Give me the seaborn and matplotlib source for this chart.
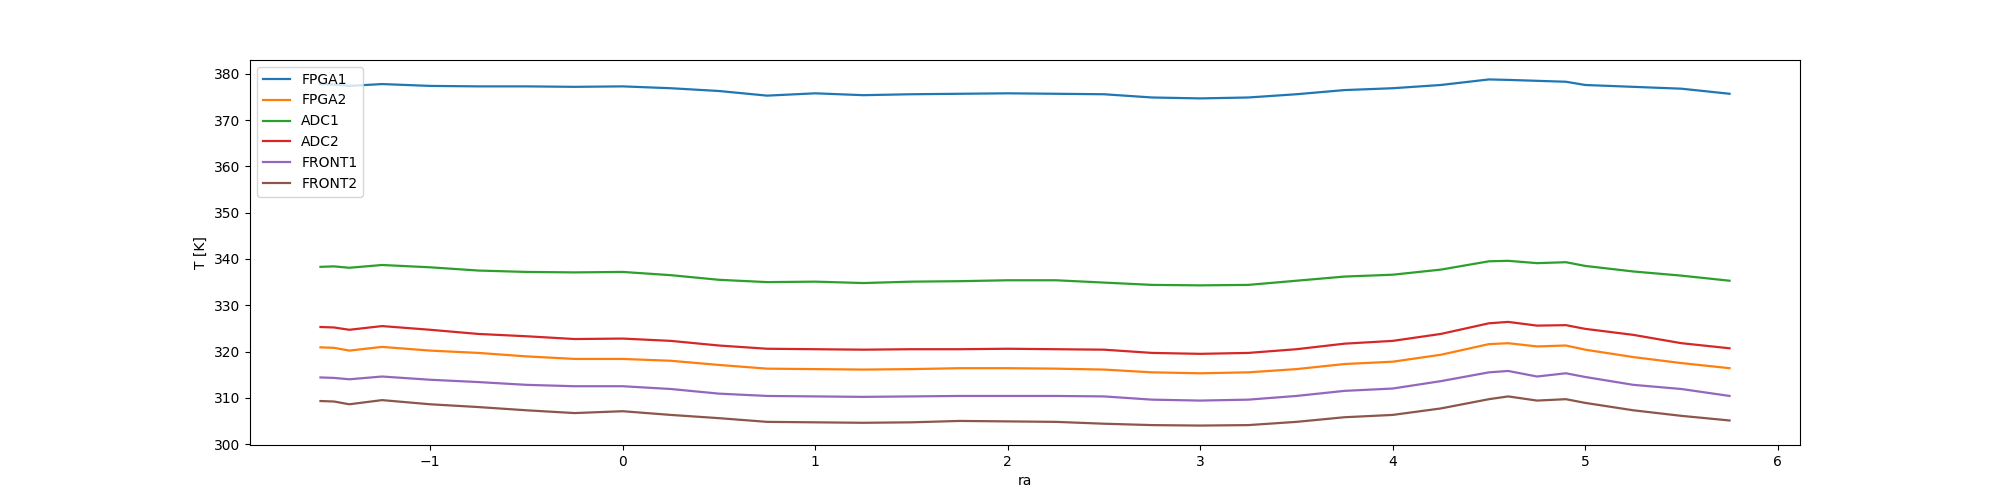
import numpy as np
import pandas as pd
import matplotlib
matplotlib.use("Agg")
import matplotlib.pyplot as plt
import seaborn as sns

# values (ra vs temperature in K)
ra = [-1.57, -1.5, -1.42, -1.25, -1.0, -0.75, -0.5, -0.25, 0.0, 0.25, 0.5, 0.75,
      1.0, 1.25, 1.5, 1.75, 2.0, 2.25, 2.5, 2.75, 3.0, 3.25, 3.5, 3.75, 4.0,
      4.25, 4.5, 4.6, 4.75, 4.9, 5.0, 5.25, 5.5, 5.75]

fpga1 = [377.8, 377.7, 377.4, 377.8, 377.4, 377.3, 377.3, 377.2, 377.3, 376.9, 376.3, 375.3,
         375.8, 375.4, 375.6, 375.7, 375.8, 375.7, 375.6, 374.9, 374.7, 374.9, 375.6, 376.5,
         376.9, 377.6, 378.8, 378.7, 378.5, 378.3, 377.6, 377.2, 376.8, 375.7]
fpga2 = [320.9, 320.8, 320.2, 321.0, 320.2, 319.7, 318.95, 318.4, 318.4, 318.0, 317.1, 316.3,
         316.2, 316.1, 316.2, 316.4, 316.4, 316.3, 316.1, 315.5, 315.3, 315.5, 316.2, 317.3,
         317.8, 319.3, 321.6, 321.8, 321.1, 321.3, 320.4, 318.8, 317.5, 316.4]
adc1 = [338.3, 338.4, 338.1, 338.7, 338.2, 337.5, 337.2, 337.1, 337.2, 336.5, 335.5, 335.0,
        335.1, 334.8, 335.1, 335.2, 335.4, 335.4, 334.9, 334.4, 334.3, 334.4, 335.3, 336.2,
        336.6, 337.7, 339.5, 339.6, 339.1, 339.3, 338.5, 337.3, 336.4, 335.3]
adc2 = [325.3, 325.2, 324.7, 325.5, 324.7, 323.8, 323.3, 322.7, 322.8, 322.3, 321.3, 320.6,
        320.5, 320.4, 320.5, 320.5, 320.6, 320.5, 320.4, 319.7, 319.5, 319.7, 320.5, 321.7,
        322.3, 323.8, 326.1, 326.4, 325.6, 325.7, 324.9, 323.6, 321.8, 320.7]
front1 = [314.4, 314.3, 314.0, 314.6, 313.9, 313.4, 312.8, 312.5, 312.5, 311.9, 310.9, 310.4,
          310.3, 310.2, 310.3, 310.4, 310.4, 310.4, 310.3, 309.6, 309.4, 309.6, 310.4, 311.5,
          312.0, 313.6, 315.5, 315.8, 314.6, 315.3, 314.5, 312.8, 311.9, 310.4]
front2 = [309.3, 309.2, 308.6, 309.5, 308.6, 308.0, 307.3, 306.7, 307.1, 306.3, 305.6, 304.8,
          304.7, 304.6, 304.7, 305.0, 304.9, 304.8, 304.4, 304.1, 304.0, 304.1, 304.8, 305.8,
          306.3, 307.7, 309.7, 310.3, 309.4, 309.7, 308.9, 307.3, 306.1, 305.1]

sensors = ["FPGA1", "FPGA2", "ADC1", "ADC2", "FRONT1", "FRONT2"]
series = [fpga1, fpga2, adc1, adc2, front1, front2]

# long-form table for seaborn
df = pd.concat(
    [pd.DataFrame({"ra": ra, "T": vals, "sensor": name}) for name, vals in zip(sensors, series)],
    ignore_index=True,
)

fig, ax = plt.subplots(figsize=(20, 5), dpi=100)
sns.lineplot(data=df, x="ra", y="T", hue="sensor", hue_order=sensors,
             palette="tab10", estimator=None, sort=False, lw=1.6, ax=ax)

ax.set_ylim(299.8, 383.0)
ax.set_xlabel("ra")
ax.set_ylabel("T [K]")
ax.legend(loc="upper left")

plt.savefig("out.png")
